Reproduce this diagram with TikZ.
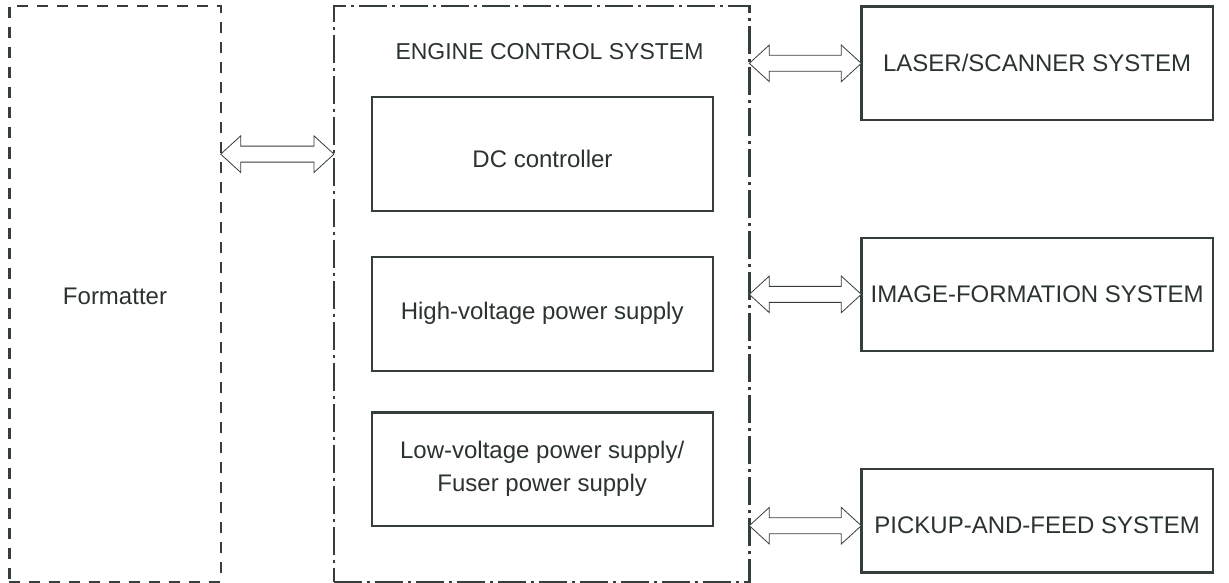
\documentclass[tikz,border=0pt]{standalone}
\usepackage{fontspec}
\setmainfont{Liberation Sans}
\usetikzlibrary{calc}
\definecolor{linec}{HTML}{363D3D}
\definecolor{textc}{HTML}{2B3232}
\newcommand{\hollowarrow}[2]{%
  \draw[harrow] (#1) -- ++(20,-18.3) -- ++(0,10.3) -- ($(#2)+(-20,-8)$) -- ++(0,-10.3) -- (#2)
    -- ++(-20,18.3) -- ++(0,-10.3) -- ($(#1)+(20,8)$) -- ++(0,10.3) -- cycle;}
\tikzset{
  box/.style={draw=linec, line width=2.4pt, rectangle, outer sep=0pt, inner sep=0pt,
    text=textc, font=\fontsize{24}{33}\selectfont, align=center},
  fmtbox/.style={box, dash pattern=on 11pt off 9pt},
  engbox/.style={box, dash pattern=on 28pt off 5pt on 3pt off 5pt},
  txt/.style={text=textc, font=\fontsize{24}{33}\selectfont, align=center, inner sep=0pt},
  harrow/.style={draw=linec, fill=white, line width=0.8pt, line join=miter}
}
\begin{document}
\begin{tikzpicture}[x=1pt, y=-1pt]
\useasboundingbox (0,0) rectangle (1229,583);
% containers
\node[fmtbox, minimum width=211.4pt, minimum height=575.7pt] (fmt) at (115,293.85) {};
\node[txt] (fmtt) at (115,296) {Formatter};
\node[engbox, minimum width=415.3pt, minimum height=575.7pt] (eng) at (541.65,293.85) {};
\node[txt, font=\fontsize{23}{30}\selectfont] (engt) at (549.5,52) {ENGINE CONTROL SYSTEM};
% inner boxes
\node[box, minimum width=341pt, minimum height=113.7pt] (dc) at (542.2,154.15) {};
\node[txt] (dct) at (542.5,158.5) {DC controller};
\node[box, minimum width=341pt, minimum height=114pt] (hv) at (542.2,313.7) {High-voltage power supply};
\node[box, minimum width=341pt, minimum height=113.4pt] (lv) at (542.2,469) {Low-voltage power supply/\\Fuser power supply};
% right systems
\node[box, minimum width=351.7pt, minimum height=113.3pt] (laser) at (1037.15,63.35) {LASER/SCANNER SYSTEM};
\node[box, minimum width=351.7pt, minimum height=113.3pt] (image) at (1037.15,294.35) {IMAGE-FORMATION SYSTEM};
\node[box, minimum width=351.7pt, minimum height=103.6pt] (pickup) at (1037.15,520.5) {};
\coordinate (pk) at ($(pickup.west)+(0,5.2)$);
\node[txt] (pickt) at (pickup.center |- pk) {PICKUP-AND-FEED SYSTEM};
% connectors
\coordinate (fa) at (fmt.east |- dc.center);
\coordinate (fb) at (eng.west |- dc.center);
\hollowarrow{fa}{fb}
\coordinate (la) at (eng.east |- laser.west);
\hollowarrow{la}{laser.west}
\coordinate (ia) at (eng.east |- image.west);
\hollowarrow{ia}{image.west}
\coordinate (pa) at (eng.east |- pk);
\hollowarrow{pa}{pk}
\end{tikzpicture}
\end{document}
